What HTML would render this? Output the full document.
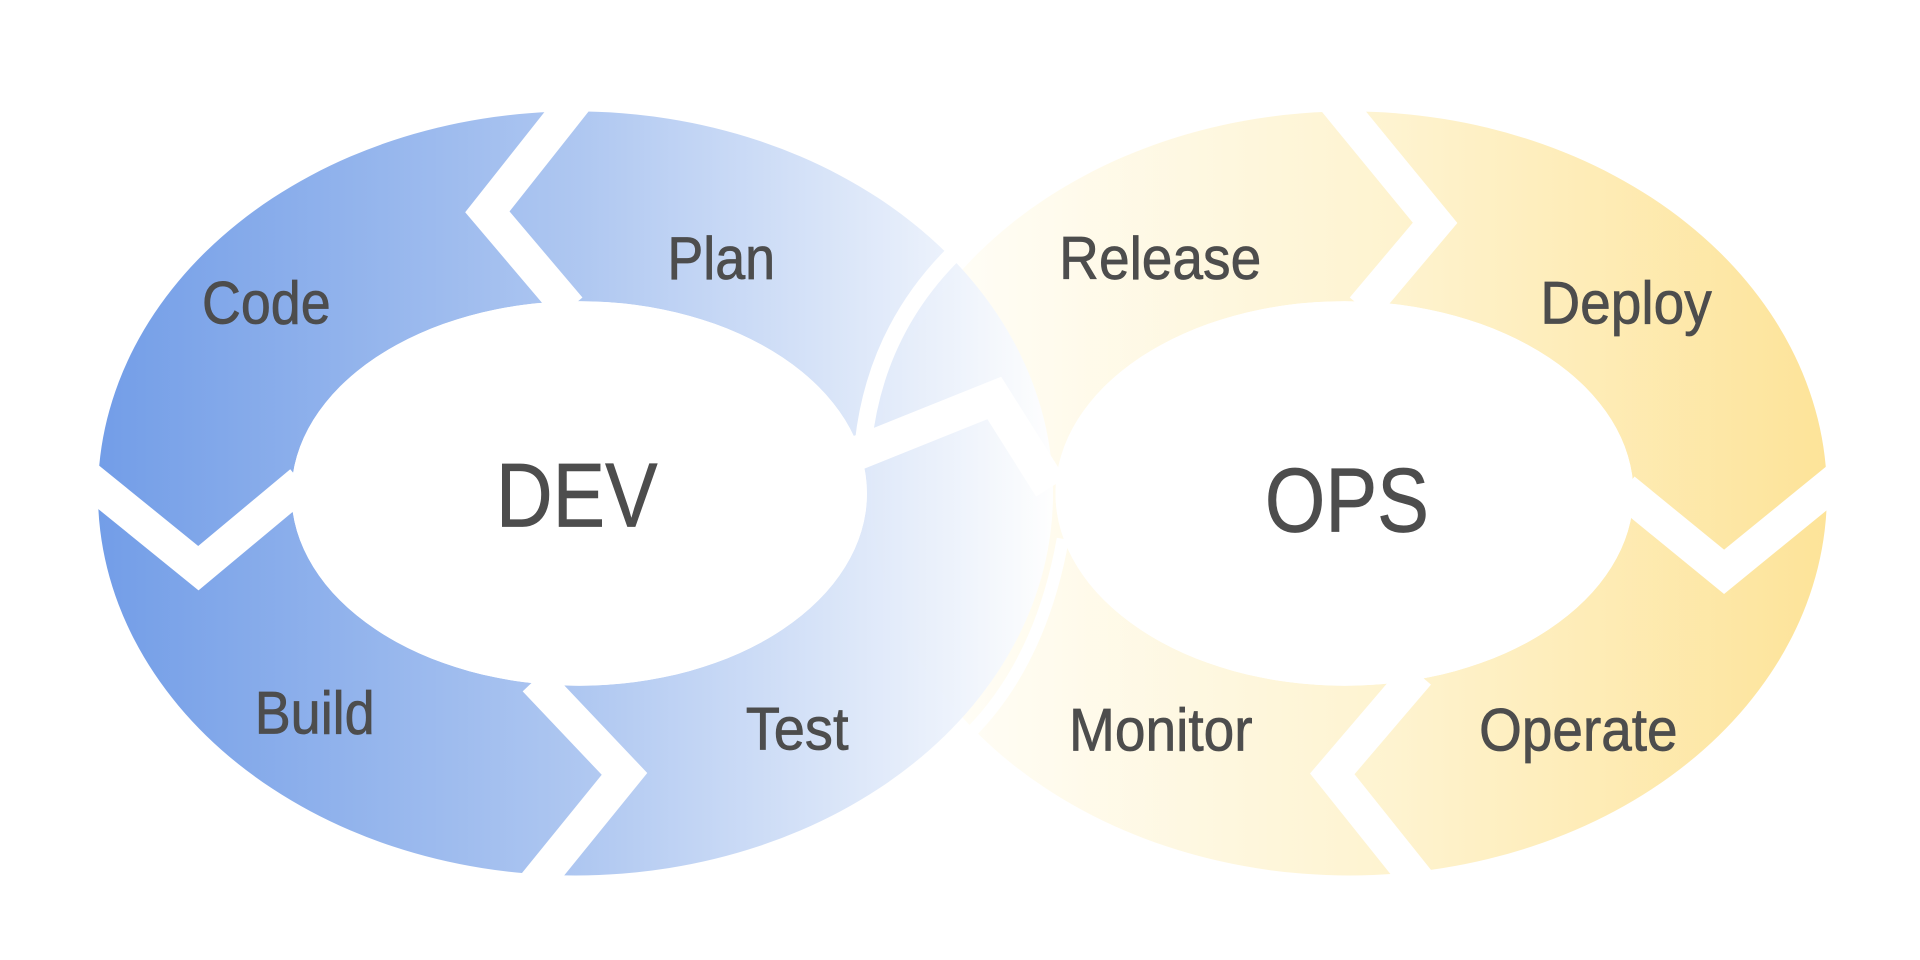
<!DOCTYPE html>
<html><head><meta charset="utf-8"><style>
html,body{margin:0;padding:0;background:#fff;width:1920px;height:960px;overflow:hidden}
svg{display:block}
text{font-family:"Liberation Sans",Arial,sans-serif;fill:#4d4d4d;stroke:#4d4d4d;stroke-width:0.6}
</style></head><body>
<svg width="1920" height="960" viewBox="0 0 1568 784" preserveAspectRatio="none" xmlns="http://www.w3.org/2000/svg">
<defs>
<linearGradient id="gb" gradientUnits="userSpaceOnUse" x1="80" y1="0" x2="865" y2="0">
<stop offset="0" stop-color="#6b98e6"/><stop offset="0.5" stop-color="#aac4f0"/><stop offset="1" stop-color="#ffffff"/>
</linearGradient>
<linearGradient id="gy" gradientUnits="userSpaceOnUse" x1="790" y1="0" x2="1495" y2="0">
<stop offset="0" stop-color="#fffdf5"/><stop offset="0.5" stop-color="#fef3cf"/><stop offset="1" stop-color="#fde398"/>
</linearGradient>
</defs>
<path fill="url(#gy)" fill-rule="evenodd" d="M712,403 a390,312 0 1,0 780,0 a390,312 0 1,0 -780,0 Z M862,403 a236,157 0 1,0 472,0 a236,157 0 1,0 -472,0 Z"/>
<path fill="url(#gb)" fill-opacity="0.95" fill-rule="evenodd" d="M80,403 a390,312 0 1,0 780,0 a390,312 0 1,0 -780,0 Z M238,403 a235,157 0 1,0 470,0 a235,157 0 1,0 -470,0 Z"/>
<g fill="none" stroke="#fff" stroke-linejoin="miter" stroke-linecap="butt">
<polyline stroke-width="28" points="470,82 398,173 465,252"/>
<polyline stroke-width="28" points="72,391 162,464 246,394"/>
<polyline stroke-width="28" points="437,555 510,632 437,722"/>
<polyline stroke-width="28" points="1090,82 1172,182 1113,252"/>
<polyline stroke-width="28" points="1500,392 1408,467 1326,400"/>
<polyline stroke-width="28" points="1160,722 1088,632 1158,550"/>
<polyline stroke-width="28" points="700,370 812,325 858,398"/>
<path stroke-width="14" d="M780,206 Q715,270 705,362"/>
<path stroke-width="10" d="M868,440 Q850,540 793,598"/>
</g>
<ellipse cx="473" cy="403" rx="235" ry="157" fill="#fff"/>
<ellipse cx="1098" cy="403" rx="236" ry="157" fill="#fff"/>
<g font-size="49">
<text x="165" y="264" textLength="105" lengthAdjust="spacingAndGlyphs">Code</text>
<text x="545" y="228" textLength="88" lengthAdjust="spacingAndGlyphs">Plan</text>
<text x="865" y="228" textLength="165" lengthAdjust="spacingAndGlyphs">Release</text>
<text x="1258" y="264" textLength="140" lengthAdjust="spacingAndGlyphs">Deploy</text>
<text x="208" y="599" textLength="98" lengthAdjust="spacingAndGlyphs">Build</text>
<text x="609" y="612" textLength="84" lengthAdjust="spacingAndGlyphs">Test</text>
<text x="873" y="613" textLength="150" lengthAdjust="spacingAndGlyphs">Monitor</text>
<text x="1208" y="613" textLength="162" lengthAdjust="spacingAndGlyphs">Operate</text>
</g>
<text x="405" y="430" font-size="74" textLength="132" lengthAdjust="spacingAndGlyphs">DEV</text>
<text x="1033" y="434" font-size="74" textLength="134" lengthAdjust="spacingAndGlyphs">OPS</text>
</svg>
</body></html>
